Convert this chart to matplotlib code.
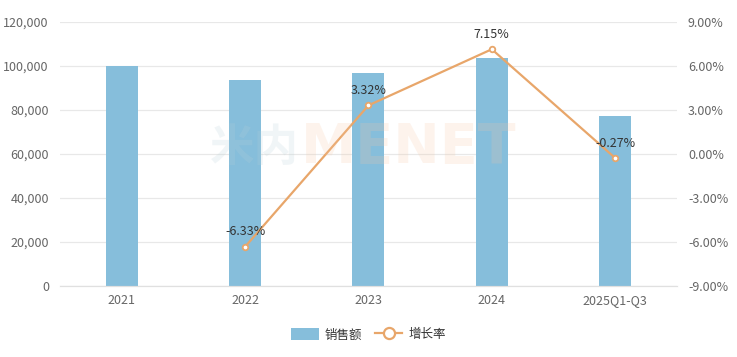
import matplotlib.pyplot as plt
from matplotlib.lines import Line2D
from matplotlib.patches import Patch
from matplotlib.ticker import FuncFormatter

plt.rcParams['font.family'] = ['Noto Sans CJK SC', 'DejaVu Sans']

categories = ["2021", "2022", "2023", "2024", "2025Q1-Q3"]
sales = [100000, 93600, 96800, 103600, 77400]
growth = [None, -6.33, 3.32, 7.15, -0.27]
growth_labels = ["", "-6.33%", "3.32%", "7.15%", "-0.27%"]

bar_color = "#86bedb"
line_color = "#e8a66a"
tick_color = "#666666"

fig = plt.figure(figsize=(7.37, 3.57), dpi=100)
ax = fig.add_axes([0.0814, 0.199, 0.837, 0.739])
ax2 = ax.twinx()

x = list(range(len(categories)))
ax.bar(x, sales, width=0.26, color=bar_color, zorder=2)
ax.set_ylim(0, 120000)
ax.set_xlim(-0.5, len(categories) - 0.5)
ax.set_yticks(range(0, 120001, 20000))
ax.yaxis.set_major_formatter(FuncFormatter(lambda v, p: f"{int(v):,}"))
ax.set_xticks(x, categories)
ax.grid(axis="y", color="#e8e8e8", linewidth=0.9, zorder=0)
ax.set_axisbelow(True)

gx = [i for i, g in zip(x, growth) if g is not None]
gy = [g for g in growth if g is not None]
ax2.plot(gx, gy, color=line_color, linewidth=1.6, marker="o", markersize=4,
         markerfacecolor="white", markeredgecolor=line_color, markeredgewidth=1.3, zorder=3)
for i, g, lab in zip(x, growth, growth_labels):
    if g is None:
        continue
    ax2.annotate(lab, (i, g), xytext=(0, 6), textcoords="offset points",
                 ha="center", va="bottom", fontsize=9, color="#333333")
ax2.set_ylim(-9, 9)
ax2.set_yticks([-9, -6, -3, 0, 3, 6, 9])
ax2.yaxis.set_major_formatter(FuncFormatter(lambda v, p: f"{v:.2f}%"))

for a in (ax, ax2):
    for s in ("top", "left", "right"):
        a.spines[s].set_visible(False)
    a.spines["bottom"].set_color("#e0e0e0")
    a.tick_params(length=0, labelsize=9, labelcolor=tick_color)
ax.tick_params(axis="y", pad=8)
ax.tick_params(axis="x", pad=6)
ax2.tick_params(axis="y", pad=8)

# watermark
fig.text(0.405, 0.585, "米内", fontsize=32, fontweight="bold", color="#b8cfd8",
         alpha=0.2, ha="right", va="center")
fig.text(0.408, 0.585, "MENET", fontsize=40, fontweight="bold", color="#f6c6a4",
         alpha=0.2, ha="left", va="center", family="DejaVu Sans")

handles = [
    Patch(facecolor=bar_color, edgecolor="none", label="销售额"),
    Line2D([0], [0], color=line_color, linewidth=1.6, marker="o", markersize=8,
           markerfacecolor="white", markeredgecolor=line_color, markeredgewidth=1.6,
           label="增长率"),
]
fig.legend(handles=handles, loc="center", bbox_to_anchor=(0.5, 0.062), ncol=2,
           frameon=False, fontsize=9, handlelength=2.2, handleheight=1.0,
           columnspacing=1.0, handletextpad=0.5, labelcolor="#333333")

fig.savefig("out.png", dpi=100)
